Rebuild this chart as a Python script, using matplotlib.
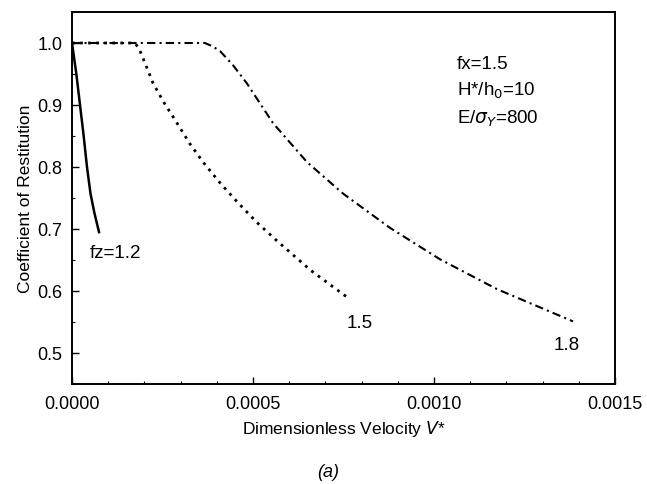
import matplotlib.pyplot as plt
import numpy as np

plt.rcParams['font.family'] = ['Liberation Sans', 'DejaVu Sans']

# fz = 1.2 (solid)
v12 = [0.0, 0.0000124, 0.0000221, 0.0000318, 0.0000414, 0.0000511, 0.0000622, 0.0000746]
e12 = [1.0, 0.948, 0.90, 0.852, 0.80, 0.757, 0.725, 0.695]

# fz = 1.5 (dotted)
v15 = [0.0, 0.000174, 0.000186, 0.000200, 0.000224, 0.000255, 0.00029, 0.000325, 0.000362,
       0.000408, 0.000456, 0.00051, 0.000566, 0.00066, 0.00076]
e15 = [1.0, 1.0, 0.99, 0.97, 0.935, 0.903, 0.871, 0.838, 0.808,
       0.775, 0.744, 0.711, 0.681, 0.633, 0.59]

# fz = 1.8 (dash-dot)
v18 = [0.0, 0.000367, 0.000387, 0.000409, 0.000445, 0.000483, 0.000555, 0.000649, 0.000749,
       0.000878, 0.001017, 0.001174, 0.001384]
e18 = [1.0, 1.0, 0.995, 0.987, 0.964, 0.935, 0.871, 0.808, 0.757,
       0.702, 0.651, 0.603, 0.551]

xticks = [0.0, 0.0005, 0.0010, 0.0015]
xticklabels = ['0.0000', '0.0005', '0.0010', '0.0015']
yticks = [0.5, 0.6, 0.7, 0.8, 0.9, 1.0]

fig = plt.figure(figsize=(6.47, 4.85), dpi=100)
ax = fig.add_axes([0.1113, 0.2062, 0.8392, 0.767])

ax.plot(v12, e12, color='black', lw=1.8, linestyle='-')
ax.plot(v15, e15, color='black', lw=2.0, linestyle=(0, (1, 1.9)))
ax.plot(v18, e18, color='black', lw=1.5, linestyle=(0, (4, 2, 1, 2)))

ax.set_xlim(0, 0.0015)
ax.set_ylim(0.4556, 1.046)
ax.set_xticks(xticks)
ax.set_xticklabels(xticklabels)
ax.set_yticks(yticks)
ax.set_yticks(np.arange(0.45, 1.05, 0.05), minor=True)
ax.set_xticks(np.arange(0, 0.00151, 0.0001), minor=True)
ax.tick_params(which='both', direction='in', labelsize=13)
ax.tick_params(which='major', length=5, width=1)
ax.tick_params(which='minor', length=2.5, width=0.8)
ax.tick_params(axis='x', pad=8)
ax.tick_params(axis='y', pad=7)
for s in ax.spines.values():
    s.set_linewidth(1.4)

ax.set_ylabel('Coefficient of Restitution', fontsize=12.5, labelpad=3)
ax.set_xlabel('Dimensionless Velocity $\\mathit{V}$*', fontsize=12.5, labelpad=4)

ax.text(0.00005, 0.662, 'fz=1.2', fontsize=13.5, va='center')
ax.text(0.00076, 0.549, '1.5', fontsize=13.5, va='center')
ax.text(0.00133, 0.514, '1.8', fontsize=13.5, va='center')

ax.text(0.001064, 0.967, 'fx=1.5', fontsize=13.5, va='center')
ax.text(0.001064, 0.924, 'H*/h$_0$=10', fontsize=13.5, va='center')
ax.text(0.001064, 0.879, 'E/$\\sigma_Y$=800', fontsize=13.5, va='center')

fig.text(0.507, 0.025, '(a)', fontsize=13, style='italic', ha='center', va='center')

fig.savefig('out.png', dpi=100)
